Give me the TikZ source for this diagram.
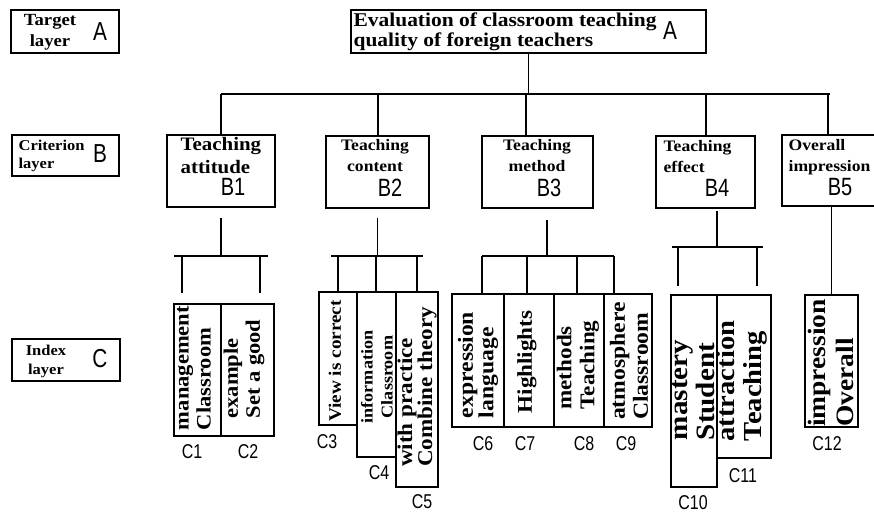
\documentclass[tikz,border=0pt]{standalone}
\usepackage{fontspec}
\newfontfamily\serifb{Liberation Serif}[FakeStretch=1.1]
\newfontfamily\tagf{Liberation Sans}[FakeStretch=0.8]
\tikzset{
  boxframe/.style={draw, line width=1.2pt, inner sep=0pt, outer sep=0pt, anchor=north west},
  serif/.style 2 args={inner sep=0pt, font=\serifb\bfseries\fontsize{#1}{#2}\selectfont},
  vtext/.style 2 args={serif={#1}{#2}, rotate=90, align=left},
  lettag/.style={inner sep=0pt, font=\tagf\fontsize{26}{26}\selectfont},
  btag/.style={inner sep=0pt, font=\tagf\fontsize{25}{25}\selectfont},
  ctag/.style={inner sep=0pt, font=\tagf\fontsize{20}{20}\selectfont}
}
\begin{document}
\begin{tikzpicture}[x=1pt,y=-1pt,line width=1.2pt]
\useasboundingbox (0,0) rectangle (874,513);
\clip (0,0) rectangle (874,513);

% layer names
\node[boxframe, minimum width=108, minimum height=43] (tgt) at (11,10) {};
\node[serif={17}{21}, align=center] (tgtt) at (50,32) {Target\\layer};
\node[lettag] (tgta) at (100,32) {A};
\node[boxframe, minimum width=107, minimum height=41] (crit) at (12,135) {};
\node[serif={15}{18}, align=left, anchor=west] (critt) at (18,156) {Criterion\\layer};
\node[lettag] (critb) at (100,154) {B};
\node[boxframe, minimum width=108, minimum height=42] (idx) at (12,339) {};
\node[serif={15}{19}, align=center] (idxt) at (46,361) {Index\\layer};
\node[lettag] (idxc) at (100,359) {C};

% target layer
\node[boxframe, minimum width=355, minimum height=43] (top) at (351,10) {};
\node[serif={19.5}{20}, align=left, anchor=north west] (topt) at (353,12)
  {Evaluation of classroom teaching\\quality of foreign teachers};
\node[lettag] (topa) at (670,31) {A};

% criterion layer
\node[boxframe, minimum width=108, minimum height=72] (B1) at (167,135) {};
\node[boxframe, minimum width=103, minimum height=72] (B2) at (326,136) {};
\node[boxframe, minimum width=111, minimum height=72] (B3) at (482,136) {};
\node[boxframe, minimum width=99, minimum height=72] (B4) at (656,136) {};
\node[boxframe, minimum width=110, minimum height=71] (B5) at (782,135) {};
\node[serif={19}{23}, align=left, anchor=north west] (b1t) at (180,137) {Teaching\\attitude};
\node[serif={16}{21}, align=center, anchor=north] (b2t) at (375,139) {Teaching\\content};
\node[serif={16}{21}, align=center, anchor=north] (b3t) at (537,139) {Teaching\\method};
\node[serif={16}{21}, align=left, anchor=north west] (b4t) at (663,140) {Teaching\\effect};
\node[serif={16}{21}, align=left, anchor=north west] (b5t) at (788,139) {Overall\\impression};
\node[btag] (b1g) at (233,187) {B1};
\node[btag] (b2g) at (390,188) {B2};
\node[btag] (b3g) at (549,188) {B3};
\node[btag] (b4g) at (717,188) {B4};
\node[btag] (b5g) at (840,187) {B5};

% index layer
\node[boxframe, minimum width=47, minimum height=132] (C1) at (174,304) {};
\node[boxframe, minimum width=53, minimum height=132] (C2) at (221,304) {};
\node[boxframe, minimum width=38, minimum height=133] (C3) at (319,292) {};
\node[boxframe, minimum width=39, minimum height=165] (C4) at (357,292) {};
\node[boxframe, minimum width=42, minimum height=195] (C5) at (396,292) {};
\node[boxframe, minimum width=52, minimum height=133] (C6) at (452,294) {};
\node[boxframe, minimum width=50, minimum height=133] (C7) at (504,294) {};
\node[boxframe, minimum width=50, minimum height=133] (C8) at (554,294) {};
\node[boxframe, minimum width=48, minimum height=133] (C9) at (604,294) {};
\node[boxframe, minimum width=46, minimum height=192] (C10) at (671,295) {};
\node[boxframe, minimum width=54, minimum height=163] (C11) at (717,295) {};
\node[boxframe, minimum width=53, minimum height=132] (C12) at (805,295) {};

\node[vtext={20.5}{22}] (c1t) at (194,368) {management\\Classroom};
\node[vtext={20.5}{22}] (c2t) at (244,369) {example\\Set a good};
\node[vtext={17.5}{20}] (c3t) at (335,361) {View is correct};
\node[vtext={16.5}{20}, align=center] (c4t) at (377,377) {information\\Classroom};
\node[vtext={21}{20}] (c5t) at (417,387) {with practice\\Combine theory};
\node[vtext={21.5}{19}] (c6t) at (478,365) {expression\\language};
\node[vtext={21}{20}] (c7t) at (527,362) {Highlights};
\node[vtext={21}{23}] (c8t) at (578,365) {methods\\Teaching};
\node[vtext={21.5}{23}] (c9t) at (629,361) {atmosphere\\Classroom};
\node[vtext={26.5}{27}] (c10t) at (694,390) {mastery\\Student};
\node[vtext={26}{27}] (c11t) at (742,381) {attraction\\Teaching};
\node[vtext={25}{28}] (c12t) at (831,363) {impression\\Overall};

\node[ctag] (c1g) at (192,452) {C1};
\node[ctag] (c2g) at (248,452) {C2};
\node[ctag] (c3g) at (327,442) {C3};
\node[ctag] (c4g) at (379,473) {C4};
\node[ctag] (c5g) at (422,502) {C5};
\node[ctag] (c6g) at (483,444) {C6};
\node[ctag] (c7g) at (525,444) {C7};
\node[ctag] (c8g) at (584,444) {C8};
\node[ctag] (c9g) at (626,444) {C9};
\node[ctag] (c10g) at (693,503) {C10};
\node[ctag] (c11g) at (743,476) {C11};
\node[ctag] (c12g) at (827,444) {C12};

% A to B
\coordinate (busa) at (221,94);
\draw (top.south) -- (top.south |- busa);
\draw (busa) -- (830,94);
\foreach \b/\x in {B1/221,B2/378,B3/526,B4/706,B5/828}
  \draw (\x,94) -- (\x,94 |- \b.north);

% B to C
\draw[shorten <=11pt] (B1.south) -- (B1.south |- 0,256);
\draw (174,256) -- (268,256);
\foreach \x in {182,260}
  \draw[shorten >=11pt] (\x,256) -- (\x,256 |- C1.north);

\draw[shorten <=10pt] (B2.south) -- (B2.south |- 0,256);
\draw (331,256) -- (423,256);
\foreach \c/\x in {C3/338,C4/376,C5/417}
  \draw (\x,256) -- (\x,256 |- \c.north);

\coordinate (b3d) at (547,208);
\draw[shorten <=12pt] (b3d) -- (b3d |- 0,256);
\draw (482,256) -- (614,256);
\foreach \c/\x in {C6/482,C7/527,C8/577,C9/614}
  \draw (\x,256) -- (\x,256 |- \c.north);

\coordinate (b4d) at (717,208);
\draw[shorten <=3pt] (b4d) -- (b4d |- 0,247);
\draw (672,247) -- (763,247);
\foreach \c/\x in {C10/678,C11/757}
  \draw[shorten >=9pt] (\x,247) -- (\x,247 |- \c.north);

\draw (C12.north |- B5.south) -- (C12.north);

\end{tikzpicture}
\end{document}
